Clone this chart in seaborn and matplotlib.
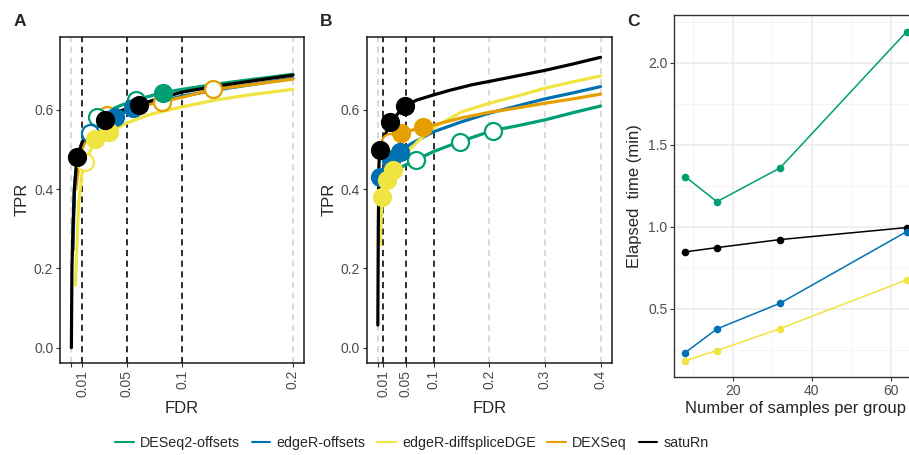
import matplotlib
matplotlib.use("Agg")
import matplotlib.pyplot as plt
from matplotlib.lines import Line2D
import numpy as np
import pandas as pd
import seaborn as sns

# ---------------- data ----------------
methods = ["DESeq2-offsets", "edgeR-offsets", "edgeR-diffspliceDGE", "DEXSeq", "satuRn"]
colors = ["#009E73", "#0072B2", "#F0E442", "#E69F00", "#000000"]
thresholds = [0.01, 0.05, 0.1]

# Panel A curves (FDR, TPR)
A_deseq2_fdr = [0.0015, 0.003, 0.006, 0.010, 0.016, 0.023, 0.035, 0.045, 0.058, 0.0826, 0.10, 0.13, 0.16, 0.20]
A_deseq2_tpr = [0.30, 0.42, 0.49, 0.52, 0.555, 0.583, 0.600, 0.612, 0.625, 0.644, 0.652, 0.665, 0.676, 0.690]
A_edger_fdr = [0.0015, 0.0027, 0.0045, 0.008, 0.0165, 0.028, 0.0396, 0.056, 0.08, 0.10, 0.13, 0.16, 0.20]
A_edger_tpr = [0.247, 0.40, 0.449, 0.50, 0.541, 0.568, 0.583, 0.605, 0.622, 0.635, 0.650, 0.663, 0.680]
A_dsdge_fdr = [0.0036, 0.0066, 0.0096, 0.0126, 0.0216, 0.034, 0.05, 0.07, 0.10, 0.13, 0.16, 0.20]
A_dsdge_tpr = [0.158, 0.365, 0.44, 0.469, 0.526, 0.545, 0.567, 0.588, 0.608, 0.625, 0.638, 0.652]
A_dexseq_fdr = [0.004, 0.008, 0.015, 0.032, 0.05, 0.0817, 0.10, 0.128, 0.16, 0.20]
A_dexseq_tpr = [0.40, 0.49, 0.54, 0.588, 0.603, 0.621, 0.632, 0.652, 0.663, 0.678]
A_saturn_fdr = [0.0, 0.0005, 0.0015, 0.0027, 0.0051, 0.010, 0.020, 0.0306, 0.045, 0.0607, 0.08, 0.10, 0.13, 0.16, 0.20]
A_saturn_tpr = [0.0, 0.20, 0.306, 0.398, 0.481, 0.52, 0.555, 0.575, 0.598, 0.613, 0.630, 0.645, 0.660, 0.672, 0.688]

# Panel A working points at thresholds 0.01 / 0.05 / 0.1
A_pt_deseq2_fdr = [0.023, 0.058, 0.0826]
A_pt_deseq2_tpr = [0.583, 0.625, 0.644]
A_pt_edger_fdr = [0.0165, 0.0396, 0.056]
A_pt_edger_tpr = [0.541, 0.583, 0.605]
A_pt_dsdge_fdr = [0.0126, 0.0216, 0.034]
A_pt_dsdge_tpr = [0.469, 0.526, 0.545]
A_pt_dexseq_fdr = [0.032, 0.0817, 0.128]
A_pt_dexseq_tpr = [0.588, 0.621, 0.652]
A_pt_saturn_fdr = [0.0051, 0.0306, 0.0607]
A_pt_saturn_tpr = [0.481, 0.575, 0.613]

# Panel B curves
B_deseq2_fdr = [0.006, 0.012, 0.025, 0.045, 0.069, 0.10, 0.147, 0.206, 0.25, 0.30, 0.35, 0.40]
B_deseq2_tpr = [0.33, 0.41, 0.44, 0.458, 0.474, 0.495, 0.520, 0.548, 0.560, 0.575, 0.593, 0.610]
B_edger_fdr = [0.0015, 0.003, 0.012, 0.024, 0.039, 0.06, 0.10, 0.15, 0.20, 0.25, 0.30, 0.35, 0.40]
B_edger_tpr = [0.36, 0.432, 0.455, 0.474, 0.495, 0.515, 0.545, 0.570, 0.592, 0.610, 0.628, 0.643, 0.659]
B_dsdge_fdr = [0.004, 0.0077, 0.016, 0.027, 0.05, 0.075, 0.10, 0.15, 0.20, 0.25, 0.30, 0.35, 0.40]
B_dsdge_tpr = [0.26, 0.38, 0.422, 0.449, 0.49, 0.525, 0.555, 0.595, 0.617, 0.635, 0.655, 0.671, 0.686]
B_dexseq_fdr = [0.008, 0.022, 0.042, 0.081, 0.10, 0.15, 0.20, 0.25, 0.30, 0.35, 0.40]
B_dexseq_tpr = [0.49, 0.52, 0.541, 0.557, 0.562, 0.580, 0.594, 0.605, 0.617, 0.628, 0.640]
B_saturn_fdr = [0.0, 0.0008, 0.002, 0.003, 0.022, 0.049, 0.07, 0.10, 0.13, 0.17, 0.20, 0.25, 0.30, 0.35, 0.40]
B_saturn_tpr = [0.057, 0.30, 0.46, 0.499, 0.569, 0.611, 0.625, 0.638, 0.650, 0.664, 0.672, 0.686, 0.700, 0.716, 0.733]

B_pt_deseq2_fdr = [0.069, 0.147, 0.206]
B_pt_deseq2_tpr = [0.474, 0.520, 0.548]
B_pt_edger_fdr = [0.003, 0.024, 0.039]
B_pt_edger_tpr = [0.432, 0.474, 0.495]
B_pt_dsdge_fdr = [0.0077, 0.016, 0.027]
B_pt_dsdge_tpr = [0.380, 0.422, 0.449]
B_pt_dexseq_fdr = [0.022, 0.042, 0.081]
B_pt_dexseq_tpr = [0.520, 0.541, 0.557]
B_pt_saturn_fdr = [0.003, 0.022, 0.049]
B_pt_saturn_tpr = [0.499, 0.569, 0.611]

A_breaks = [0, 0.01, 0.05, 0.1, 0.2]
A_labels = ["", "0.01", "0.05", "0.1", "0.2"]
B_breaks = [0, 0.01, 0.05, 0.1, 0.2, 0.3, 0.4]
B_labels = ["", "0.01", "0.05", "0.1", "0.2", "0.3", "0.4"]
tpr_breaks = [0.0, 0.2, 0.4, 0.6]

# Panel C: timings
samples = [8, 16, 32, 64]
C_deseq2 = [1.307, 1.154, 1.360, 2.190]
C_edger = [0.234, 0.378, 0.535, 0.971]
C_dsdge = [0.185, 0.246, 0.380, 0.677]
C_saturn = [0.848, 0.874, 0.923, 0.996]

# ---------------- style ----------------
sns.set_theme(style="white")
plt.rcParams["font.family"] = ["Liberation Sans", "DejaVu Sans"]
TICKCOL = "#4D4D4D"
TICKSIZE = 10
pal = dict(zip(methods, colors))

W, H = 909, 455
fig = plt.figure(figsize=(W / 100, H / 100), dpi=100)


def px_axes(l, r, t, b):
    return fig.add_axes([l / W, 1 - b / H, (r - l) / W, (b - t) / H])


def curves_df(fdrs, tprs):
    frames = []
    for m, f, t in zip(methods, fdrs, tprs):
        frames.append(pd.DataFrame({"FDR": f, "TPR": t, "method": m}))
    return pd.concat(frames, ignore_index=True)


def draw_roc(ax, fdrs, tprs, pfdrs, ptprs, breaks, labels, xlim):
    for b in breaks:
        ax.axvline(b, color="#D0D0D0", ls=(0, (4, 3)), lw=1.1, zorder=0.5)
    for t in thresholds:
        ax.axvline(t, color="black", ls=(0, (4, 3)), lw=1.1, zorder=0.6)
    df = curves_df(fdrs, tprs)
    sns.lineplot(data=df, x="FDR", y="TPR", hue="method", hue_order=methods,
                 palette=pal, estimator=None, lw=2.3, legend=False, ax=ax, zorder=2)
    order = [3, 0, 1, 2, 4]
    for i in order:
        pdf = pd.DataFrame({"FDR": pfdrs[i], "TPR": ptprs[i], "thr": thresholds})
        filled = pdf[pdf["FDR"] <= pdf["thr"]]
        opened = pdf[pdf["FDR"] > pdf["thr"]]
        if len(opened):
            sns.scatterplot(data=opened, x="FDR", y="TPR", color="white",
                            edgecolor=colors[i], linewidth=1.6, s=150, ax=ax,
                            zorder=3, legend=False)
        if len(filled):
            sns.scatterplot(data=filled, x="FDR", y="TPR", color=colors[i],
                            edgecolor=colors[i], linewidth=1.6, s=150, ax=ax,
                            zorder=3, legend=False)
    ax.set_xlim(*xlim)
    ax.set_ylim(-0.038, 0.785)
    ax.set_xticks(breaks)
    ax.set_xticklabels(labels, rotation=90)
    ax.set_yticks(tpr_breaks)
    ax.set_yticklabels([f"{v:.1f}" for v in tpr_breaks])
    ax.set_xlabel("FDR", fontsize=12, labelpad=3)
    ax.set_ylabel("TPR", fontsize=12, labelpad=3)
    ax.tick_params(axis="both", which="major", length=3, width=0.8, color="#333333",
                   labelsize=TICKSIZE, labelcolor=TICKCOL, pad=2,
                   bottom=True, left=True)
    for s in ax.spines.values():
        s.set_color("#1A1A1A")
        s.set_linewidth(1.1)
    ax.grid(False)


axA = px_axes(60.3, 304, 36.7, 362.7)
draw_roc(axA,
         [A_deseq2_fdr, A_edger_fdr, A_dsdge_fdr, A_dexseq_fdr, A_saturn_fdr],
         [A_deseq2_tpr, A_edger_tpr, A_dsdge_tpr, A_dexseq_tpr, A_saturn_tpr],
         [A_pt_deseq2_fdr, A_pt_edger_fdr, A_pt_dsdge_fdr, A_pt_dexseq_fdr, A_pt_saturn_fdr],
         [A_pt_deseq2_tpr, A_pt_edger_tpr, A_pt_dsdge_tpr, A_pt_dexseq_tpr, A_pt_saturn_tpr],
         A_breaks, A_labels, (-0.01, 0.21))

axB = px_axes(366.7, 611.7, 36.7, 362.7)
draw_roc(axB,
         [B_deseq2_fdr, B_edger_fdr, B_dsdge_fdr, B_dexseq_fdr, B_saturn_fdr],
         [B_deseq2_tpr, B_edger_tpr, B_dsdge_tpr, B_dexseq_tpr, B_saturn_tpr],
         [B_pt_deseq2_fdr, B_pt_edger_fdr, B_pt_dsdge_fdr, B_pt_dexseq_fdr, B_pt_saturn_fdr],
         [B_pt_deseq2_tpr, B_pt_edger_tpr, B_pt_dsdge_tpr, B_pt_dexseq_tpr, B_pt_saturn_tpr],
         B_breaks, B_labels, (-0.02, 0.42))

# Panel C
axC = px_axes(674.2, 917.6, 15.4, 377.0)
cdf = pd.concat([
    pd.DataFrame({"n": samples, "time": C_saturn, "method": "satuRn"}),
    pd.DataFrame({"n": samples, "time": C_deseq2, "method": "DESeq2-offsets"}),
    pd.DataFrame({"n": samples, "time": C_edger, "method": "edgeR-offsets"}),
    pd.DataFrame({"n": samples, "time": C_dsdge, "method": "edgeR-diffspliceDGE"}),
], ignore_index=True)
sns.lineplot(data=cdf, x="n", y="time", hue="method",
             hue_order=["satuRn", "DESeq2-offsets", "edgeR-offsets", "edgeR-diffspliceDGE"],
             palette=pal, marker="o", markersize=5.5, markeredgewidth=0, lw=1.1,
             estimator=None, legend=False, ax=axC, zorder=3)
axC.set_xlim(5.2, 66.8)
axC.set_ylim(0.085, 2.29)
axC.set_xticks([20, 40, 60])
axC.set_xticks([10, 30, 50], minor=True)
axC.set_yticks([0.5, 1.0, 1.5, 2.0])
axC.set_yticks([0.25, 0.75, 1.25, 1.75, 2.25], minor=True)
axC.set_yticklabels(["0.5", "1.0", "1.5", "2.0"])
axC.grid(True, which="major", color="#EBEBEB", lw=1.1, zorder=0)
axC.grid(True, which="minor", color="#F2F2F2", lw=0.6, zorder=0)
axC.set_axisbelow(True)
axC.set_xlabel("Number of samples per group", fontsize=12, labelpad=2)
axC.set_ylabel("Elapsed  time (min)", fontsize=12, labelpad=4)
axC.tick_params(axis="both", which="major", length=3, width=0.8, color="#333333",
                labelsize=TICKSIZE, labelcolor=TICKCOL, pad=2, bottom=True, left=True)
axC.tick_params(axis="both", which="minor", length=0)
for s in axC.spines.values():
    s.set_color("#333333")
    s.set_linewidth(1.0)

# panel tags
for txt, x, y in [("A", 20, 22), ("B", 326, 22), ("C", 633, 22)]:
    fig.text(x / W, 1 - y / H, txt, fontsize=12.5, fontweight="bold",
             ha="center", va="center")

# legend
handles = [Line2D([0], [0], color=c, lw=1.5) for c in colors]
fig.legend(handles, methods, loc="center", ncol=5, frameon=False,
           bbox_to_anchor=(412 / W, 1 - 443 / H), fontsize=10.3,
           handlelength=1.3, handletextpad=0.45, columnspacing=0.8)

fig.savefig("out.png", dpi=100)
